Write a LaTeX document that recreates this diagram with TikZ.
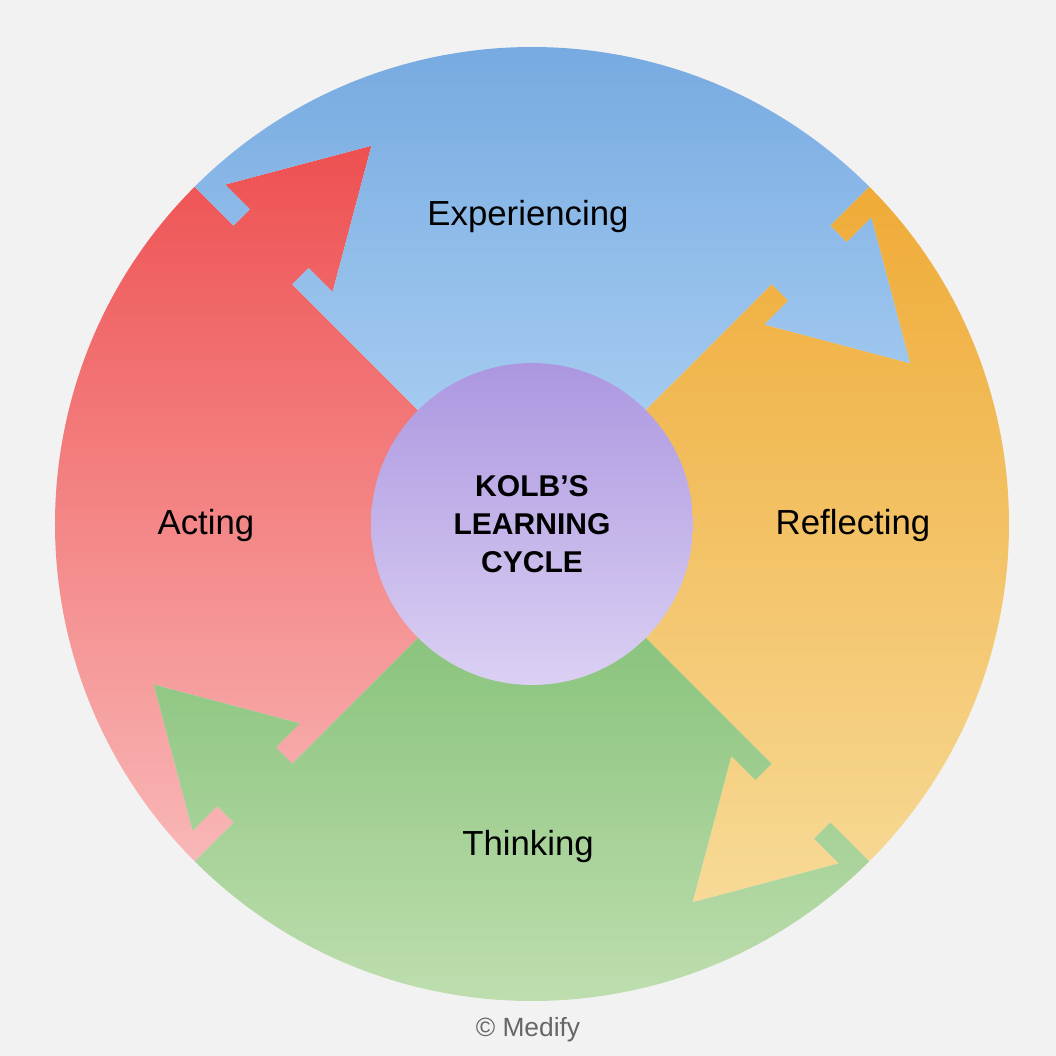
\documentclass[tikz,border=0pt]{standalone}
\usepackage{fontspec}
\setmainfont{Liberation Sans}

\definecolor{bggray}{HTML}{F2F2F2}
\definecolor{redtop}{HTML}{EE5051}
\definecolor{redbot}{HTML}{F9B7B7}
\definecolor{bluetop}{HTML}{71A6DF}
\definecolor{bluebot}{HTML}{B2D5F5}
\definecolor{orangetop}{HTML}{EFAB37}
\definecolor{orangebot}{HTML}{F7DA97}
\definecolor{greentop}{HTML}{7ABC6E}
\definecolor{greenbot}{HTML}{C5E1B5}
\definecolor{purpletop}{HTML}{AC97E0}
\definecolor{purplebot}{HTML}{DBD0F3}
\definecolor{creditgray}{HTML}{666666}

\begin{document}
\begin{tikzpicture}[x=0.02cm,y=0.02cm,
        stage/.style={font=\fontsize{19.8}{24}\selectfont},
        hub/.style={circle,inner sep=0pt,minimum size=6.44cm,align=center,
            font=\fontsize{17.1}{21.5}\selectfont\bfseries},
        credit/.style={font=\fontsize{15}{18}\selectfont,text=creditgray}]

        % Background
        \fill[bggray] (-532,-532) rectangle (524,524);

        % Left quarter: arrow into the top one
        \shade[top color=redtop,bottom color=redbot]
            (0,0) -- ([rotate=135]339,0) -- ([rotate=135]339,-23) -- ([rotate=135]305,-23)
            -- ([rotate=135]381,-154) -- ([rotate=135]457,-23) -- ([rotate=135]422,-23)
            -- ([rotate=135]422,0) -- ([rotate=135]477,0)
            arc[start angle=135,end angle=225,radius=477]
            -- ([rotate=135]0,422) -- ([rotate=135]23,422) -- ([rotate=135]23,457)
            -- ([rotate=135]154,381) -- ([rotate=135]23,305) -- ([rotate=135]23,339)
            -- ([rotate=135]0,339) -- cycle;

        % Top quarter: arrow into the right one
        \shade[top color=bluetop,bottom color=bluebot]
            (0,0) -- ([rotate=45]339,0) -- ([rotate=45]339,-23) -- ([rotate=45]305,-23)
            -- ([rotate=45]381,-154) -- ([rotate=45]457,-23) -- ([rotate=45]422,-23)
            -- ([rotate=45]422,0) -- ([rotate=45]477,0)
            arc[start angle=45,end angle=135,radius=477]
            -- ([rotate=45]0,422) -- ([rotate=45]23,422) -- ([rotate=45]23,457)
            -- ([rotate=45]154,381) -- ([rotate=45]23,305) -- ([rotate=45]23,339)
            -- ([rotate=45]0,339) -- cycle;

        % Right quarter: arrow into the bottom one
        \shade[top color=orangetop,bottom color=orangebot]
            (0,0) -- ([rotate=-45]339,0) -- ([rotate=-45]339,-23) -- ([rotate=-45]305,-23)
            -- ([rotate=-45]381,-154) -- ([rotate=-45]457,-23) -- ([rotate=-45]422,-23)
            -- ([rotate=-45]422,0) -- ([rotate=-45]477,0)
            arc[start angle=-45,end angle=45,radius=477]
            -- ([rotate=-45]0,422) -- ([rotate=-45]23,422) -- ([rotate=-45]23,457)
            -- ([rotate=-45]154,381) -- ([rotate=-45]23,305) -- ([rotate=-45]23,339)
            -- ([rotate=-45]0,339) -- cycle;

        % Bottom quarter: arrow into the left one
        \shade[top color=greentop,bottom color=greenbot]
            (0,0) -- ([rotate=225]339,0) -- ([rotate=225]339,-23) -- ([rotate=225]305,-23)
            -- ([rotate=225]381,-154) -- ([rotate=225]457,-23) -- ([rotate=225]422,-23)
            -- ([rotate=225]422,0) -- ([rotate=225]477,0)
            arc[start angle=225,end angle=315,radius=477]
            -- ([rotate=225]0,422) -- ([rotate=225]23,422) -- ([rotate=225]23,457)
            -- ([rotate=225]154,381) -- ([rotate=225]23,305) -- ([rotate=225]23,339)
            -- ([rotate=225]0,339) -- cycle;

        % Centre
        \node[hub,top color=purpletop,bottom color=purplebot] (kolb) at (0,0)
            {KOLB’S\\LEARNING\\CYCLE};

        % Stages
        \node[stage] (exp) at (-4,307) {Experiencing};
        \node[stage] (refl) at (321,-2) {Reflecting};
        \node[stage] (think) at (-4,-322) {Thinking};
        \node[stage] (act) at (-326,-2) {Acting};

        \node[credit] (medify) at (-4,-506) {© Medify};

        \end{tikzpicture}
\end{document}
